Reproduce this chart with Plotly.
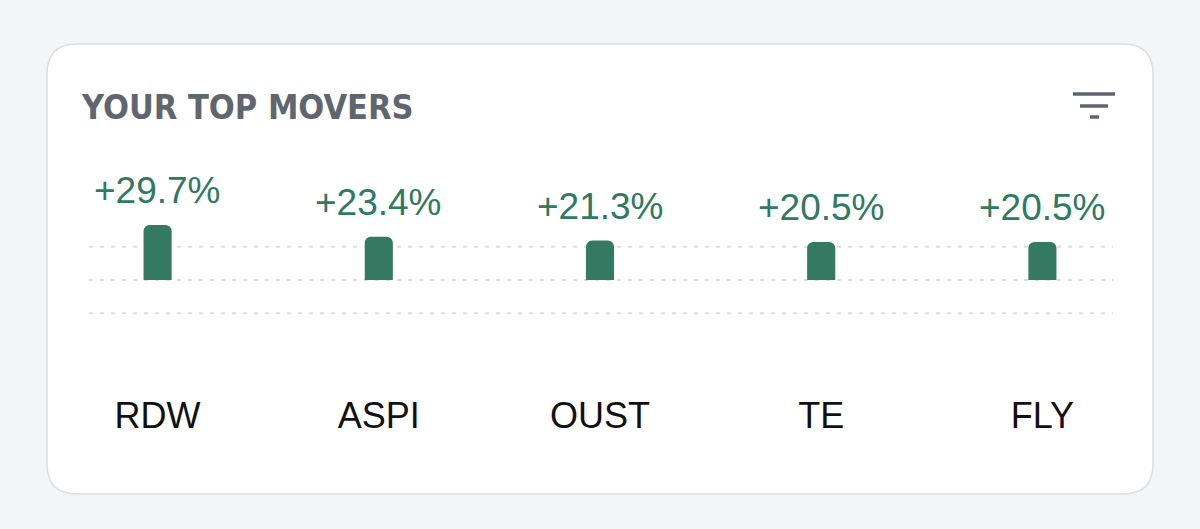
import plotly.graph_objects as go

# data
tickers = ["RDW", "ASPI", "OUST", "TE", "FLY"]
changes = [29.7, 23.4, 21.3, 20.5, 20.5]
grid_values = [18, 0, -18]

W, H = 1200, 529
BG = "#f4f5f7"
GREEN = "#347a63"
GRAY = "#5f6670"


def px(x):
    return x / W


def py(y):
    return 1 - y / H


def card_path(x0, y0, x1, y1, r):
    rx, ry = r / W, r / H
    a, b, c, d = px(x0), py(y0), px(x1), py(y1)
    return (f"M {a + rx},{b} L {c - rx},{b} Q {c},{b} {c},{b - ry} "
            f"L {c},{d + ry} Q {c},{d} {c - rx},{d} L {a + rx},{d} "
            f"Q {a},{d} {a},{d + ry} L {a},{b - ry} Q {a},{b} {a + rx},{b} Z")


fig = go.Figure()

fig.add_trace(go.Bar(
    x=tickers, y=changes,
    width=0.127,
    marker=dict(color=GREEN, cornerradius=6, line=dict(width=0)),
    hoverinfo="skip",
))

shapes = [dict(type="path", xref="paper", yref="paper", layer="below",
               path=card_path(47, 44, 1153, 494, 30),
               fillcolor="white", line=dict(color="#dcdde0", width=1.5))]

# dotted guide lines
for g in grid_values:
    shapes.append(dict(type="line", xref="paper", yref="y", layer="below",
                       x0=px(89), x1=px(1113), y0=g, y1=g,
                       line=dict(color="#dddddd", width=2, dash="4px,7px")))

# filter icon
for (x0, x1, y) in [(1073, 1115, 94), (1080, 1108, 106), (1090, 1099, 117)]:
    shapes.append(dict(type="line", xref="paper", yref="paper",
                       x0=px(x0), x1=px(x1), y0=py(y), y1=py(y),
                       line=dict(color=GRAY, width=3.5)))

annotations = [dict(xref="paper", yref="paper", x=px(79), y=py(107),
                    xanchor="left", yanchor="middle", showarrow=False,
                    text="<b>YOUR TOP MOVERS</b>",
                    font=dict(family="Liberation Sans Narrow, DejaVu Sans Condensed, sans-serif",
                              size=34, color=GRAY))]

for t, v in zip(tickers, changes):
    annotations.append(dict(x=t, y=v, xanchor="center", yanchor="bottom",
                            yshift=12, showarrow=False, text=f"+{v:.1f}%",
                            font=dict(family="Liberation Sans, Arial, sans-serif",
                                      size=37, color="#2f7a60")))

fig.update_layout(
    width=W, height=H,
    margin=dict(l=0, r=0, t=0, b=0),
    paper_bgcolor=BG,
    plot_bgcolor="rgba(0,0,0,0)",
    showlegend=False,
    shapes=shapes,
    annotations=annotations,
    xaxis=dict(domain=[px(47), px(1153)], range=[-0.5, 4.5],
               showgrid=False, zeroline=False, showline=False, ticks="",
               ticklabelstandoff=10,
               tickfont=dict(family="Liberation Sans, Arial, sans-serif", size=36, color="#111111")),
    yaxis=dict(domain=[py(381), py(140)], range=[-54.6, 75.7],
               showgrid=False, zeroline=False, showline=False,
               showticklabels=False, ticks=""),
)

fig.write_html("out.html", config={"displayModeBar": False},
               post_script="document.body.style.margin='0';document.body.style.background='#f4f5f7';")
